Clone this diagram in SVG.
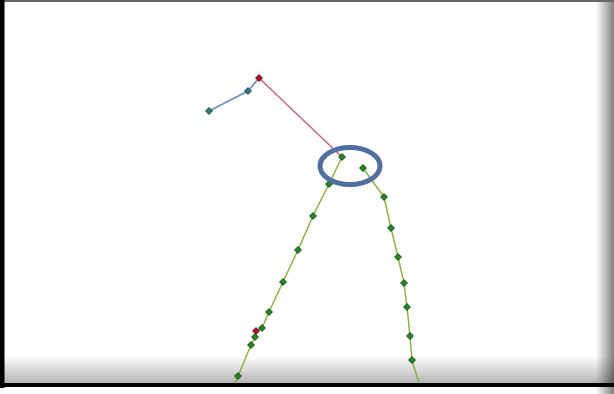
<svg xmlns="http://www.w3.org/2000/svg" width="614" height="394" viewBox="0 0 614 394">
<defs>
<linearGradient id="shR" x1="0" y1="0" x2="1" y2="0">
<stop offset="0" stop-color="#000" stop-opacity="0"/>
<stop offset="1" stop-color="#000" stop-opacity="0.5"/>
</linearGradient>
<linearGradient id="shB" x1="0" y1="0" x2="0" y2="1">
<stop offset="0" stop-color="#000" stop-opacity="0"/>
<stop offset="1" stop-color="#000" stop-opacity="0.3"/>
</linearGradient>
</defs>
<style>
.g{fill:none;stroke:#86ad3e;stroke-width:1.4}
.b{fill:none;stroke:#6f8fc0;stroke-width:1.6}
.p{fill:none;stroke:#c05a80;stroke-width:1.3}
.n{fill:#1e8a1e;stroke:#1a2a1a;stroke-width:0.8}
.t{fill:#2a7a80;stroke:#1a2a2a;stroke-width:0.8}
.r{fill:#b0102a;stroke:#401010;stroke-width:0.8}
</style>
<rect width="614" height="394" fill="#fff"/>
<rect x="596" y="0" width="18" height="394" fill="url(#shR)"/>
<rect x="0" y="356" width="614" height="28" fill="url(#shB)"/>
<rect x="0" y="0" width="614" height="2" fill="#666"/>
<rect x="0" y="0" width="4.5" height="388" fill="#000"/>
<rect x="0" y="383" width="614" height="4" fill="#000"/>
<g id="connectors">
<polyline class="b" points="209,111 248,91 259,78"/>
<polyline class="p" points="259,78 342,157"/>
<polyline class="g" points="342,157 329,184 313,216 298,250 283,282 269,312 262,328 256,331 255,337 251,345 238,376 235,383"/>
<polyline class="g" points="363,168 384,197 391,228 398,257 404,283 407,307 410,336 412,360 419,383"/>
</g>
<g id="nodes">
<path class="t" d="M209,107.5 L212.5,111 L209,114.5 L205.5,111 Z"/>
<path class="t" d="M248,87.5 L251.5,91 L248,94.5 L244.5,91 Z"/>
<path class="r" d="M259,74.5 L262.5,78 L259,81.5 L255.5,78 Z"/>
<g id="left-chain">
<path class="n" d="M342,153.5 L345.5,157 L342,160.5 L338.5,157 Z"/>
<path class="n" d="M329,180.5 L332.5,184 L329,187.5 L325.5,184 Z"/>
<path class="n" d="M313,212.5 L316.5,216 L313,219.5 L309.5,216 Z"/>
<path class="n" d="M298,246.5 L301.5,250 L298,253.5 L294.5,250 Z"/>
<path class="n" d="M283,278.5 L286.5,282 L283,285.5 L279.5,282 Z"/>
<path class="n" d="M269,308.5 L272.5,312 L269,315.5 L265.5,312 Z"/>
<path class="n" d="M262,324.5 L265.5,328 L262,331.5 L258.5,328 Z"/>
<path class="r" d="M256,327.5 L259.5,331 L256,334.5 L252.5,331 Z"/>
<path class="n" d="M255,333.5 L258.5,337 L255,340.5 L251.5,337 Z"/>
<path class="n" d="M251,341.5 L254.5,345 L251,348.5 L247.5,345 Z"/>
<path class="n" d="M238,372.5 L241.5,376 L238,379.5 L234.5,376 Z"/>
</g>
<g id="right-chain">
<path class="n" d="M363,164.5 L366.5,168 L363,171.5 L359.5,168 Z"/>
<path class="n" d="M384,193.5 L387.5,197 L384,200.5 L380.5,197 Z"/>
<path class="n" d="M391,224.5 L394.5,228 L391,231.5 L387.5,228 Z"/>
<path class="n" d="M398,253.5 L401.5,257 L398,260.5 L394.5,257 Z"/>
<path class="n" d="M404,279.5 L407.5,283 L404,286.5 L400.5,283 Z"/>
<path class="n" d="M407,303.5 L410.5,307 L407,310.5 L403.5,307 Z"/>
<path class="n" d="M410,332.5 L413.5,336 L410,339.5 L406.5,336 Z"/>
<path class="n" d="M412,356.5 L415.5,360 L412,363.5 L408.5,360 Z"/>
</g>
</g>
<g id="highlight">
<ellipse cx="350" cy="166" rx="30" ry="18.5" fill="none" stroke="#4f6f9f" stroke-width="5"/>
</g>
</svg>
